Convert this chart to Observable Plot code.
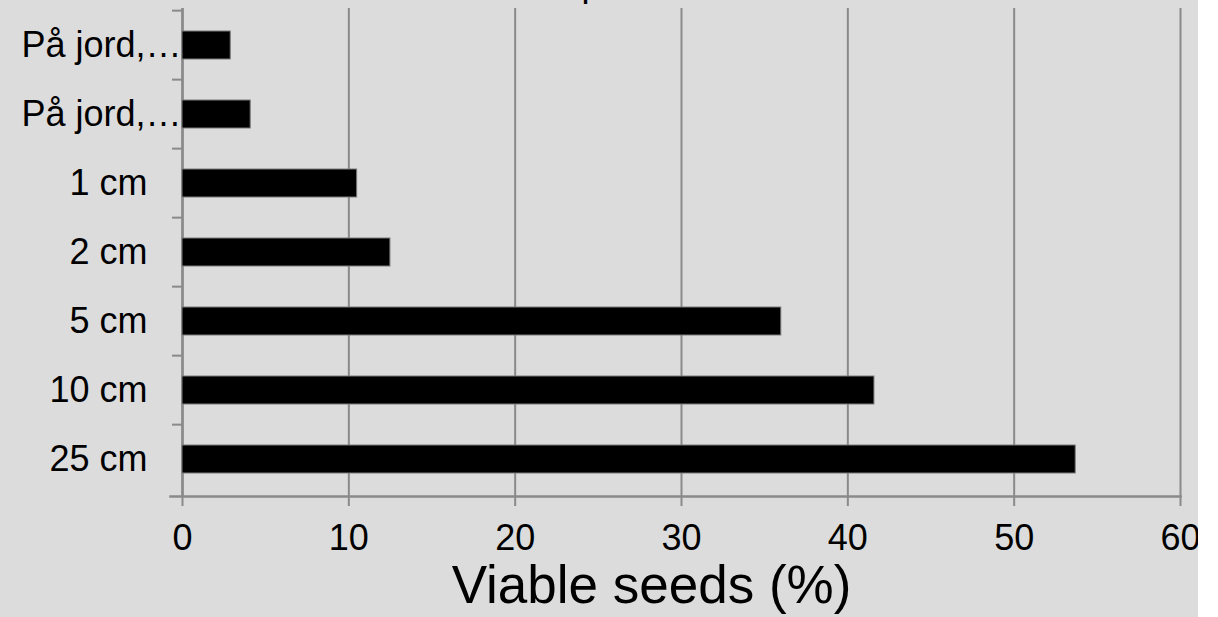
<!DOCTYPE html>
<html><head><meta charset="utf-8">
<script src="https://cdn.jsdelivr.net/npm/d3@7"></script>
<script src="https://cdn.jsdelivr.net/npm/@observablehq/plot@0.6"></script>
<style>
body{margin:0;background:#fff;}
#chart{width:1198px;height:617px;background:#dcdcdc;overflow:hidden;}
#chart svg{background:transparent;font-family:"Liberation Sans",Arial,sans-serif;}
</style></head><body><div id="chart"></div>
<script>
const labels = ["På jord,…", "På jord,…", "1 cm", "2 cm", "5 cm", "10 cm", "25 cm"];
const values = [2.9, 4.1, 10.5, 12.5, 36.0, 41.6, 53.7];
const xTicks = [0, 10, 20, 30, 40, 50, 60];
const title = "Depth";
const xLabel = "Viable seeds (%)";

const data = labels.map((label, i) => ({i, label, value: values[i], trunc: label.endsWith("…")}));
const W = 1198, H = 617, mt = 8, mb = 121, ml = 182, mr = 18;
const step = (H - mt - mb) / labels.length;
const grid = "#8a8a8a";
const font = "Liberation Sans, Arial, sans-serif";

const plot = Plot.plot({
  width: W, height: H,
  marginTop: mt, marginBottom: mb, marginLeft: ml, marginRight: mr,
  style: {background: "transparent", fontFamily: font, color: "#000", overflow: "hidden"},
  x: {domain: [0, 60], label: null},
  y: {type: "band", domain: d3.range(labels.length), paddingInner: 0.6, paddingOuter: 0.3, label: null},
  marks: [
    Plot.gridX(xTicks, {stroke: grid, strokeOpacity: 1, strokeWidth: 2}),
    Plot.axisX(xTicks, {tickSize: 10, tickPadding: 18, fontSize: 36, stroke: grid, strokeWidth: 2, fill: "#000", label: null}),
    Plot.axisY(d3.range(labels.length), {tickSize: 10, dy: -step / 2, tickFormat: () => "", stroke: grid, strokeWidth: 2, label: null}),
    Plot.ruleX([0], {stroke: grid, strokeWidth: 2.5}),
    Plot.frame({anchor: "bottom", stroke: grid, strokeWidth: 2.5, insetLeft: -12}),
    Plot.barX(data, {x: "value", y: "i", fill: "#000", stroke: "#7a7a7a", strokeWidth: 1}),
    Plot.text(data.filter(d => !d.trunc), {y: "i", text: "label", frameAnchor: "left", textAnchor: "end", dx: -35, fontSize: 36, fill: "#000"}),
    Plot.text(data.filter(d => d.trunc), {y: "i", text: "label", frameAnchor: "left", textAnchor: "end", dx: -1, fontSize: 36, fill: "#000"}),
    Plot.text([title], {frameAnchor: "top-left", dx: 353, dy: -13, lineAnchor: "bottom", textAnchor: "start", fontSize: 36, fill: "#000"}),
    Plot.text([xLabel], {frameAnchor: "bottom", dx: -30, dy: 106, lineAnchor: "bottom", fontSize: 53, fill: "#000"})
  ]
});
document.getElementById("chart").appendChild(plot);
</script>
</body></html>
